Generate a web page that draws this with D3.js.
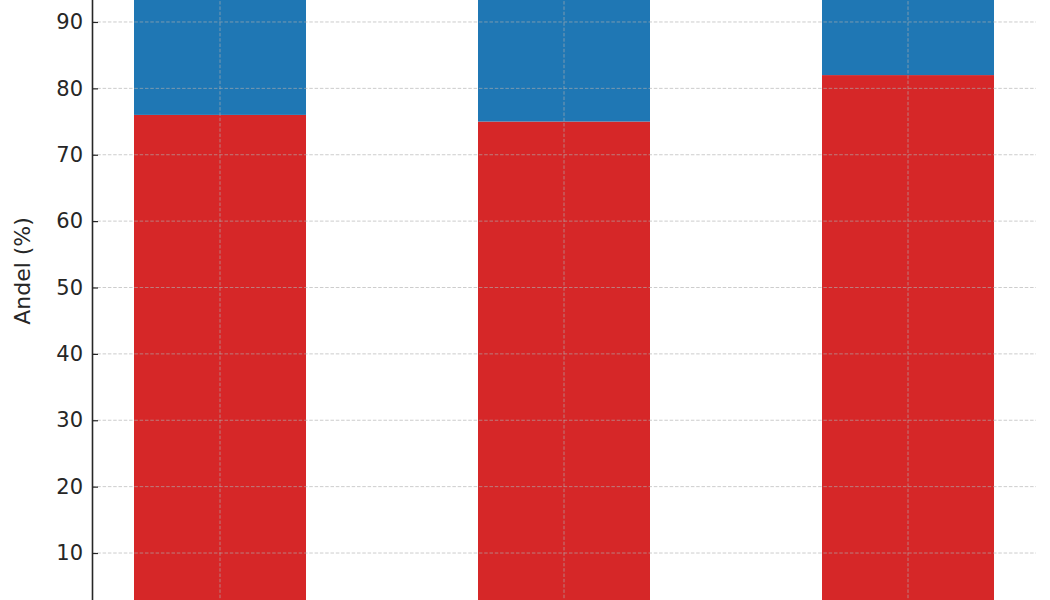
<!DOCTYPE html>
<html>
<head>
<meta charset="utf-8">
<script src="https://cdn.jsdelivr.net/npm/d3@7"></script>
<style>
  html, body { margin: 0; padding: 0; background: #fff; overflow: hidden; }
  text { font-family: "DejaVu Sans", sans-serif; }
</style>
</head>
<body>
<script>
// data (x labels lie outside the visible crop)
var categories = ['Gruppe 1', 'Gruppe 2', 'Gruppe 3'];
var redValues = [76, 75, 82];
var blueValues = [24, 25, 18];
var yTicks = [10, 20, 30, 40, 50, 60, 70, 80, 90];
var yLabel = 'Andel (%)';

var width = 1050, height = 600;
var axisX = 92, gridRight = 1036;

var svg = d3.select('body').append('svg')
  .attr('width', width)
  .attr('height', height);

var x = d3.scaleBand()
  .domain(categories)
  .range([48, 1080])
  .paddingInner(0.5)
  .paddingOuter(0.25);

// the view is a crop: 0 sits below the bottom edge, 100 above the top
var y = d3.scaleLinear()
  .domain([0, 100])
  .range([619.4, -44.4]);

var rows = categories.map(function (c, i) {
  return { cat: c, red: redValues[i], blue: blueValues[i] };
});

var bars = svg.append('g');

bars.selectAll('rect.red')
  .data(rows)
  .enter().append('rect')
  .attr('class', 'red')
  .attr('x', function (d) { return x(d.cat); })
  .attr('width', x.bandwidth())
  .attr('y', function (d) { return y(d.red); })
  .attr('height', function (d) { return y(0) - y(d.red); })
  .style('fill', '#d62728');

bars.selectAll('rect.blue')
  .data(rows)
  .enter().append('rect')
  .attr('class', 'blue')
  .attr('x', function (d) { return x(d.cat); })
  .attr('width', x.bandwidth())
  .attr('y', function (d) { return y(d.red + d.blue); })
  .attr('height', function (d) { return y(d.red) - y(d.red + d.blue); })
  .style('fill', '#1f77b4');

// grid on top of the bars, light dashed
var grid = svg.append('g')
  .style('stroke', '#b0b0b0')
  .style('stroke-opacity', 0.7)
  .style('stroke-width', 0.9)
  .style('stroke-dasharray', '3.5,1.8');

grid.selectAll('line.h')
  .data(yTicks)
  .enter().append('line')
  .attr('x1', axisX).attr('x2', gridRight)
  .attr('y1', function (d) { return y(d); })
  .attr('y2', function (d) { return y(d); });

grid.selectAll('line.v')
  .data(categories)
  .enter().append('line')
  .attr('x1', function (d) { return x(d) + x.bandwidth() / 2; })
  .attr('x2', function (d) { return x(d) + x.bandwidth() / 2; })
  .attr('y1', y(0)).attr('y2', y(100));

// y axis, ticks pointing inward
var yAxis = svg.append('g')
  .attr('transform', 'translate(' + axisX + ',0)')
  .call(d3.axisLeft(y).tickValues(yTicks).tickSizeInner(-6).tickSizeOuter(0).tickPadding(9));

yAxis.select('.domain').style('stroke', '#262626').style('stroke-width', 1.6);
yAxis.selectAll('.tick line').style('stroke', '#262626').style('stroke-width', 1.2);
yAxis.selectAll('.tick text')
  .style('font-size', '21px')
  .style('fill', '#262626');

svg.append('text')
  .attr('transform', 'translate(30,' + 271 + ') rotate(-90)')
  .attr('text-anchor', 'middle')
  .style('font-size', '22px')
  .style('fill', '#262626')
  .text(yLabel);
</script>
</body>
</html>
